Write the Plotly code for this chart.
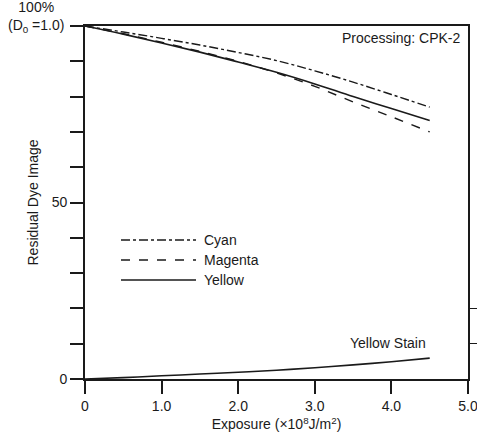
import plotly.graph_objects as go

exposure = [0, 0.5, 1.0, 1.5, 2.0, 2.5, 3.0, 3.5, 4.0, 4.5]
cyan = [100, 98.3, 96.5, 94.6, 92.5, 90.2, 87.3, 84.1, 80.6, 77.0]
magenta = [100, 97.8, 95.4, 92.8, 90.0, 86.7, 82.9, 78.5, 74.3, 70.0]
yellow = [100, 97.7, 95.2, 92.6, 89.8, 86.9, 83.6, 80.0, 76.6, 73.2]
yellow_stain = [0, 0.4, 0.9, 1.4, 1.9, 2.5, 3.2, 4.0, 4.9, 5.9]

x_ticks = [0, 1, 2, 3, 4, 5]
x_ticktext = ["0", "1.0", "2.0", "3.0", "4.0", "5.0"]
y_ticks = [0, 10, 20, 30, 40, 50, 60, 70, 80, 90, 100]
y_ticktext = ["0", "", "", "", "", "50", "", "", "", "", ""]
right_ticks = [10, 20]

FONT = "Liberation Sans, Arial, sans-serif"
INK = "#1a1a1a"
FS = 14

fig = go.Figure()
fig.add_trace(go.Scatter(x=exposure, y=cyan, mode="lines", name="Cyan",
                         line=dict(color=INK, width=1.4, dash="dashdot", shape="spline")))
fig.add_trace(go.Scatter(x=exposure, y=magenta, mode="lines", name="Magenta",
                         line=dict(color=INK, width=1.4, dash="dash", shape="spline")))
fig.add_trace(go.Scatter(x=exposure, y=yellow, mode="lines", name="Yellow",
                         line=dict(color=INK, width=1.6, shape="spline")))
fig.add_trace(go.Scatter(x=exposure, y=yellow_stain, mode="lines", name="Yellow Stain",
                         line=dict(color=INK, width=1.6, shape="spline")))
# invisible trace for right-side ticks
fig.add_trace(go.Scatter(x=[0], y=[0], yaxis="y2", mode="markers",
                         marker=dict(opacity=0), showlegend=False, hoverinfo="skip"))

fig.update_layout(
    width=477, height=438,
    margin=dict(l=85, r=9, t=26, b=59, autoexpand=False),
    paper_bgcolor="white", plot_bgcolor="white",
    showlegend=False,
    font=dict(family=FONT, size=FS, color=INK),
    xaxis=dict(range=[0, 5], tickvals=x_ticks, ticktext=x_ticktext, automargin=False,
               ticks="outside", ticklen=13, tickwidth=1.5, tickcolor=INK,
               ticklabeloverflow="allow",
               showline=True, linewidth=1.6, linecolor=INK, mirror=True,
               showgrid=False, zeroline=False,
               tickfont=dict(size=FS, family=FONT, color=INK),
               title=dict(text="Exposure (×10<sup>8</sup>J/m<sup>2</sup>)",
                          font=dict(size=FS, family=FONT, color=INK), standoff=7)),
    yaxis=dict(range=[0, 100], tickvals=y_ticks, ticktext=y_ticktext, automargin=False,
               ticks="outside", ticklen=13, tickwidth=1.5, tickcolor=INK,
               showline=True, linewidth=1.6, linecolor=INK, mirror=True,
               showgrid=False, zeroline=False,
               tickfont=dict(size=FS, family=FONT, color=INK),
               title=dict(text="Residual Dye Image",
                          font=dict(size=FS, family=FONT, color=INK), standoff=10)),
    yaxis2=dict(range=[0, 100], overlaying="y", side="right", tickvals=right_ticks,
                automargin=False,
                showticklabels=False, ticks="outside", ticklen=9, tickwidth=1.2,
                tickcolor=INK, showline=False, showgrid=False, zeroline=False),
)

# 100% label
fig.add_annotation(text="100%<br>(D<sub>0</sub> =1.0)", xref="paper", x=-0.05,
                   y=100, yref="y", xanchor="right", yanchor="middle", yshift=9,
                   showarrow=False, align="center",
                   font=dict(size=FS, family=FONT, color=INK))
fig.add_annotation(text="Processing: CPK-2", xref="paper", x=0.985, yref="paper", y=0.995,
                   xanchor="right", yanchor="top", showarrow=False,
                   font=dict(size=FS, family=FONT, color=INK))
fig.add_annotation(text="Yellow Stain", x=4.48, y=10.2, xanchor="right", yanchor="middle",
                   showarrow=False, font=dict(size=FS, family=FONT, color=INK))

# custom legend
legend_items = [("Cyan", "dashdot", 240), ("Magenta", "dash", 260), ("Yellow", "solid", 280)]
for name, dash, ypx in legend_items:
    yp = 1 - (ypx - 26) / (379 - 26)
    x0 = (121 - 85) / 383
    x1 = (196 - 85) / 383
    fig.add_shape(type="line", xref="paper", yref="paper", x0=x0, x1=x1, y0=yp, y1=yp,
                  line=dict(color=INK, width=1.4, dash=dash))
    fig.add_annotation(text=name, xref="paper", yref="paper", x=(202 - 85) / 383, y=yp,
                       xanchor="left", yanchor="middle", showarrow=False,
                       font=dict(size=FS, family=FONT, color=INK))

fig.write_html("out.html", config={"displayModeBar": False},
               post_script="document.body.style.margin='0';document.body.style.overflow='hidden';")
